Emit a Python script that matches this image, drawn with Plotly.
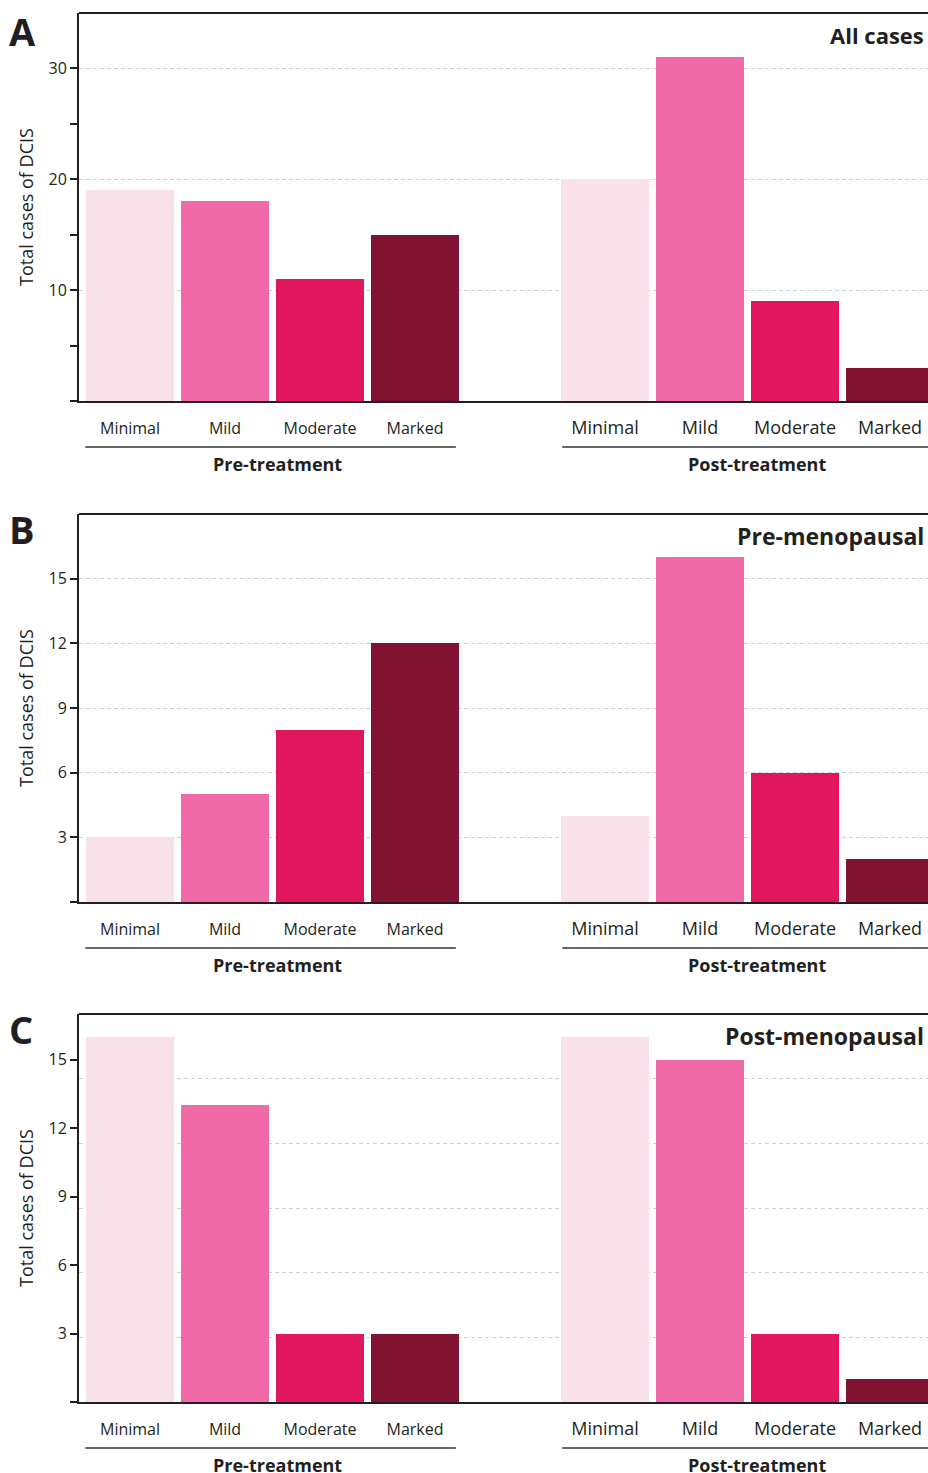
import plotly.graph_objects as go

W, H = 928, 1473

categories = ["Minimal", "Mild", "Moderate", "Marked"]
groups = ["Pre-treatment", "Post-treatment"]
colors = ["#f9e1ea", "#ef6aa6", "#e1165e", "#821232"]

panel_letters = ["A", "B", "C"]
panel_titles = ["All cases", "Pre-menopausal", "Post-menopausal"]

# values: [pre-treatment, post-treatment] per panel, in category order
all_pre = [19, 18, 11, 15]
all_post = [20, 31, 9, 3]
premeno_pre = [3, 5, 8, 12]
premeno_post = [4, 16, 6, 2]
postmeno_pre = [16, 13, 3, 3]
postmeno_post = [16, 15, 3, 1]

panel_values = [(all_pre, all_post), (premeno_pre, premeno_post), (postmeno_pre, postmeno_post)]
y_ranges = [35, 18, 17]
y_major = [[0, 10, 20, 30], [0, 3, 6, 9, 12, 15], [0, 3, 6, 9, 12, 15]]
y_minor = [[5, 15, 25], [], []]
grid_range_c = 18  # gridlines in panel C follow a 0-18 scale
grid_vals_c = [3, 6, 9, 12, 15]

x_pos_pre = [0, 1, 2, 3]
x_pos_post = [5, 6, 7, 8]

FONT = "Open Sans"
TXT = "#231f20"
AX = "#231f20"
GRID = "#d0d0d0"
GDASH = "4px,3px"

panel_tops = [13, 514, 1014]
panel_h = 388
X0 = 79

def py(y):
    return 1 - y / H

fig = go.Figure()
layout = {}
annotations = []
shapes = []

for i in range(3):
    top = panel_tops[i]
    bot = top + panel_h
    dom = [py(bot), py(top)]
    xn = "" if i == 0 else str(i + 1)
    xa = "xaxis" + xn
    ya = "yaxis" + xn
    pre, post = panel_values[i]

    for k, cat in enumerate(categories):
        fig.add_trace(go.Bar(
            x=[x_pos_pre[k], x_pos_post[k]], y=[pre[k], post[k]],
            marker=dict(color=colors[k], line=dict(width=0)),
            width=0.92, name=cat, showlegend=False,
            xaxis="x" + xn, yaxis="y" + xn,
        ))

    tickvals = x_pos_pre + x_pos_post
    ticktext = ([f"<span style='font-size:16px'>{c}</span>" for c in categories] +
                [f"<span style='font-size:18px'>{c}</span>" for c in categories])
    layout[xa] = dict(
        domain=[X0 / W, 1], range=[-0.537, 8.4], anchor="y" + xn,
        tickmode="array", tickvals=tickvals, ticktext=ticktext,
        ticks="", ticklabelstandoff=12,
        tickfont=dict(family=FONT, size=16, color=TXT),
        showline=True, linecolor=AX, linewidth=2, showgrid=False, zeroline=False,
        fixedrange=True,
    )

    ticktext_y = [""] + [str(v) for v in y_major[i][1:]]
    yax = dict(
        domain=dom, range=[0, y_ranges[i]], anchor="x" + xn,
        tickmode="array", tickvals=y_major[i], ticktext=ticktext_y,
        ticks="outside", ticklen=7, tickwidth=2, tickcolor=AX,
        tickfont=dict(family=FONT, size=16, color=TXT),
        showline=True, linecolor=AX, linewidth=2,
        showgrid=(i != 2), gridcolor=GRID, griddash=GDASH, gridwidth=1,
        zeroline=False, fixedrange=True,
        title=dict(text="Total cases of DCIS", font=dict(family=FONT, size=18, color=TXT), standoff=10),
    )
    if y_minor[i]:
        yax["minor"] = dict(tickmode="array", tickvals=y_minor[i], ticks="outside",
                            ticklen=7, tickwidth=2, tickcolor=AX, showgrid=False)
    layout[ya] = yax
    if i == 2:
        # overlay axis carrying only the gridlines (drawn beneath the bars)
        layout["yaxis4"] = dict(
            domain=dom, range=[0, grid_range_c], overlaying="y3", anchor="x3",
            tickmode="array", tickvals=grid_vals_c, ticks="", showticklabels=False,
            showline=False, showgrid=True, gridcolor=GRID, griddash=GDASH,
            gridwidth=1, zeroline=False, fixedrange=True,
        )

    # top border line
    shapes.append(dict(type="line", xref="paper", yref="paper",
                       x0=X0 / W, x1=1, y0=py(top), y1=py(top),
                       line=dict(color=AX, width=2)))
    # group underlines
    for (a, b) in [(-0.47, 3.43), (4.55, 8.43)]:
        shapes.append(dict(type="line", xref="x" + xn, yref="paper",
                           x0=a, x1=b, y0=py(bot + 46), y1=py(bot + 46),
                           line=dict(color="#333333", width=1.5)))
    # group labels
    for gx, g in zip([1.55, 6.6], groups):
        annotations.append(dict(text=f"<b>{g}</b>", xref="x" + xn, yref="paper",
                                x=gx, y=py(bot + 63), showarrow=False,
                                xanchor="center", yanchor="middle",
                                font=dict(family=FONT, size=18, color=TXT)))
    # panel title
    annotations.append(dict(text=f"<b>{panel_titles[i]}</b>", xref="paper", yref="paper",
                            x=926 / W, y=py(top + 22), showarrow=False,
                            xanchor="right", yanchor="middle",
                            font=dict(family=FONT, size=23 if i else 22, color=TXT)))
    # panel letter
    annotations.append(dict(text=f"<b>{panel_letters[i]}</b>", xref="paper", yref="paper",
                            x=7 / W, y=py(top + (18 if i == 0 else 15)), showarrow=False,
                            xanchor="left", yanchor="middle",
                            font=dict(family=FONT, size=38, color=TXT)))

# invisible trace so the grid-only overlay axis is drawn
fig.add_trace(go.Scatter(x=[0], y=[0], xaxis="x3", yaxis="y4", mode="markers",
                         marker=dict(opacity=0), showlegend=False, hoverinfo="skip"))

fig.update_layout(
    width=W, height=H, margin=dict(l=0, r=0, t=0, b=0),
    paper_bgcolor="white", plot_bgcolor="white",
    bargap=0, barmode="overlay",
    annotations=annotations, shapes=shapes,
    **layout,
)

fig.write_html("out.html", config={"displayModeBar": False},
               post_script="document.body.style.margin='0';document.body.style.overflow='hidden';")
